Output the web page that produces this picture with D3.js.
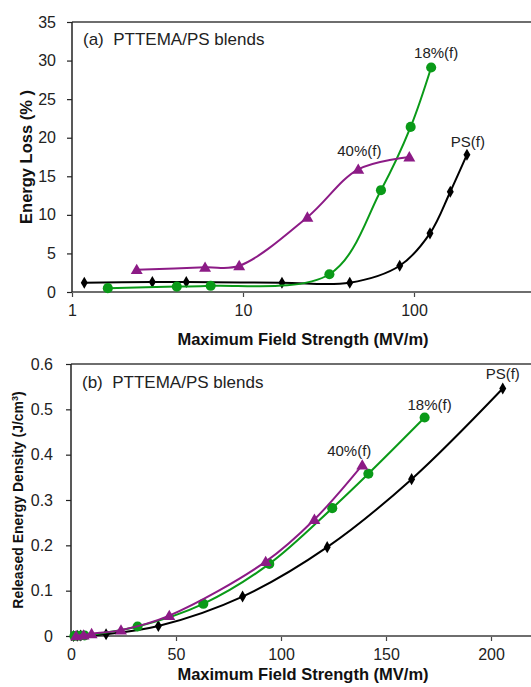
<!DOCTYPE html>
<html>
<head>
<meta charset="utf-8">
<script src="https://cdn.jsdelivr.net/npm/d3@7"></script>
<style>
  html, body { margin: 0; padding: 0; background: #fff; }
  svg { display: block; font-family: "Liberation Sans", Arial, sans-serif; }
</style>
</head>
<body>
<svg id="chart" width="531" height="687"></svg>
<script>
// ---- Panel (a): energy loss vs. maximum field strength (log x) ----
const lossPS_E   = [1.18, 2.95, 4.66, 16.9, 42.1, 82.5, 124, 163, 204];
const lossPS_V   = [1.2, 1.3, 1.3, 1.2, 1.2, 3.4, 7.6, 13.0, 17.8];
const loss18_E   = [1.62, 4.1, 6.47, 32, 64.1, 95.6, 126];
const loss18_V   = [0.5, 0.7, 0.8, 2.3, 13.2, 21.4, 29.1];
const loss40_E   = [2.39, 6.0, 9.5, 23.8, 47.2, 93.9];
const loss40_V   = [2.9, 3.2, 3.4, 9.7, 15.9, 17.5];

// ---- Panel (b): released energy density vs. maximum field strength ----
const udPS_E = [1.18, 2.95, 4.66, 16.7, 41.6, 81.7, 122, 162.2, 205.6];
const udPS_V = [0.0001, 0.0004, 0.001, 0.004, 0.022, 0.087, 0.196, 0.346, 0.546];
const ud18_E = [1.62, 4.1, 6.47, 31.7, 63, 94.4, 124.4, 141.6, 168.4];
const ud18_V = [0.0001, 0.0005, 0.0012, 0.021, 0.071, 0.159, 0.282, 0.358, 0.482];
const ud40_E = [2.39, 6.0, 9.8, 23.8, 46.8, 92.7, 115.9, 138.7];
const ud40_V = [0.0004, 0.002, 0.005, 0.013, 0.045, 0.164, 0.257, 0.377];

// tick values / labels
const lossXTicks = [1, 10, 100];
const lossYTicks = [0, 5, 10, 15, 20, 25, 30, 35];
const udXTicks = [0, 50, 100, 150, 200];
const udYTicks = [0, 0.1, 0.2, 0.3, 0.4, 0.5, 0.6];
const udYLabels = ["0", "0.1", "0.2", "0.3", "0.4", "0.5", "0.6"];

const seriesNames = ["PS(f)", "18%(f)", "40%(f)"];
const colors = { "PS(f)": "#000000", "18%(f)": "#0a9a18", "40%(f)": "#8c1b86" };
const shapes = { "PS(f)": d3.symbolDiamond, "18%(f)": d3.symbolCircle, "40%(f)": d3.symbolTriangle };
const shapeSize = { "PS(f)": 42, "18%(f)": 80, "40%(f)": 62 };

const svg = d3.select("#chart");
const W = 531;

function zip(xs, ys) { return xs.map((x, i) => ({ x, y: ys[i] })); }

function drawPanel(cfg) {
  const g = svg.append("g");
  const { x, y } = cfg;
  const x0 = x.range()[0], y0 = y.range()[0], yTop = y.range()[1];

  // y-axis ticks + labels
  const yAxis = d3.axisLeft(y).tickValues(cfg.yTicks).tickSizeInner(5).tickSizeOuter(0)
    .tickPadding(cfg.yPad).tickFormat((d, i) => cfg.yLabels[i]);
  const ya = g.append("g").attr("transform", `translate(${x0},0)`).call(yAxis);
  ya.select(".domain").remove();
  ya.selectAll("line").attr("stroke", "#222").attr("stroke-width", 1.2);
  ya.selectAll("text").attr("font-size", 16).attr("fill", "#222")
    .attr("font-family", "Liberation Sans, Arial, sans-serif");

  // x-axis ticks + labels
  const xAxis = d3.axisBottom(x).tickValues(cfg.xTicks).tickSizeInner(5).tickSizeOuter(0)
    .tickPadding(8).tickFormat((d, i) => cfg.xLabels[i]);
  const xa = g.append("g").attr("transform", `translate(0,${y0})`).call(xAxis);
  xa.select(".domain").remove();
  xa.selectAll("line").attr("stroke", "#444").attr("stroke-width", 1.2);
  xa.selectAll("text").attr("font-size", 16).attr("fill", "#222")
    .attr("font-family", "Liberation Sans, Arial, sans-serif");

  // frame: top edge and baseline in gray, left edge dark
  g.append("line").attr("x1", x0).attr("x2", W).attr("y1", yTop).attr("y2", yTop)
    .attr("stroke", "#6e6e6e").attr("stroke-width", 2);
  g.append("line").attr("x1", x0).attr("x2", W).attr("y1", y0).attr("y2", y0)
    .attr("stroke", "#6e6e6e").attr("stroke-width", 2);
  g.append("line").attr("x1", x0).attr("x2", x0).attr("y1", yTop).attr("y2", y0)
    .attr("stroke", "#222").attr("stroke-width", 1.5);

  // series
  const line = d3.line().x(d => x(d.x)).y(d => y(d.y)).curve(d3.curveCatmullRom.alpha(0.5));
  cfg.series.forEach(s => {
    const pts = zip(s.xs, s.ys);
    const c = colors[s.name];
    g.append("path").datum(pts).attr("d", line).attr("fill", "none")
      .attr("stroke", c).attr("stroke-width", 2);
    const sym = d3.symbol().type(shapes[s.name]).size(shapeSize[s.name]);
    g.selectAll(null).data(pts).enter().append("path")
      .attr("d", sym)
      .attr("transform", d => `translate(${x(d.x)},${y(d.y) + (s.name === "40%(f)" ? 1 : 0)})`)
      .attr("fill", c);
    const last = pts[pts.length - 1];
    g.append("text").attr("x", x(last.x) + s.dx).attr("y", y(last.y) + s.dy)
      .attr("text-anchor", "middle").attr("font-size", 15).attr("fill", "#222")
      .text(s.name);
  });

  // panel caption
  g.append("text").attr("x", x0 + 11).attr("y", cfg.captionY).attr("font-size", 17)
    .attr("fill", "#222").attr("xml:space", "preserve").text(cfg.caption);

  // axis titles
  g.append("text").attr("x", cfg.xTitleX).attr("y", cfg.xTitleY).attr("text-anchor", "middle")
    .attr("font-size", 16.5).attr("font-weight", "bold").attr("fill", "#111")
    .text("Maximum Field Strength (MV/m)");
  const yt = g.append("text").attr("transform", `translate(${cfg.yTitleX},${cfg.yTitleY}) rotate(-90)`)
    .attr("text-anchor", "middle").attr("font-size", cfg.yTitleSize).attr("font-weight", "bold")
    .attr("fill", "#111");
  cfg.yTitle(yt);
}

// panel (a)
drawPanel({
  x: d3.scaleLog().domain([1, 1000]).range([72, 585]),
  y: d3.scaleLinear().domain([0, 35]).range([292, 22]),
  xTicks: lossXTicks, xLabels: lossXTicks.map(String),
  yTicks: lossYTicks, yLabels: lossYTicks.map(String), yPad: 11,
  series: [
    { name: "PS(f)",  xs: lossPS_E, ys: lossPS_V, dx: 1,   dy: -8 },
    { name: "18%(f)", xs: loss18_E, ys: loss18_V, dx: 5,   dy: -10 },
    { name: "40%(f)", xs: loss40_E, ys: loss40_V, dx: -50, dy: -1 }
  ],
  caption: "(a)  PTTEMA/PS blends", captionY: 45,
  xTitleX: 303, xTitleY: 345,
  yTitleX: 32, yTitleY: 157, yTitleSize: 16.5,
  yTitle: t => t.text("Energy Loss (% )")
});

// panel (b)
drawPanel({
  x: d3.scaleLinear().domain([0, 250]).range([71, 596]),
  y: d3.scaleLinear().domain([0, 0.6]).range([636, 364]),
  xTicks: udXTicks, xLabels: udXTicks.map(String),
  yTicks: udYTicks, yLabels: udYLabels, yPad: 13,
  series: [
    { name: "PS(f)",  xs: udPS_E, ys: udPS_V, dx: 0,   dy: -9 },
    { name: "18%(f)", xs: ud18_E, ys: ud18_V, dx: 5,   dy: -7 },
    { name: "40%(f)", xs: ud40_E, ys: ud40_V, dx: -13, dy: -9 }
  ],
  caption: "(b)  PTTEMA/PS blends", captionY: 388,
  xTitleX: 303, xTitleY: 680,
  yTitleX: 23, yTitleY: 500, yTitleSize: 14,
  yTitle: t => {
    t.append("tspan").text("Released Energy Density (J/cm");
    t.append("tspan").attr("baseline-shift", "super").attr("font-size", 9).text("3");
    t.append("tspan").text(")");
  }
});
</script>
</body>
</html>
